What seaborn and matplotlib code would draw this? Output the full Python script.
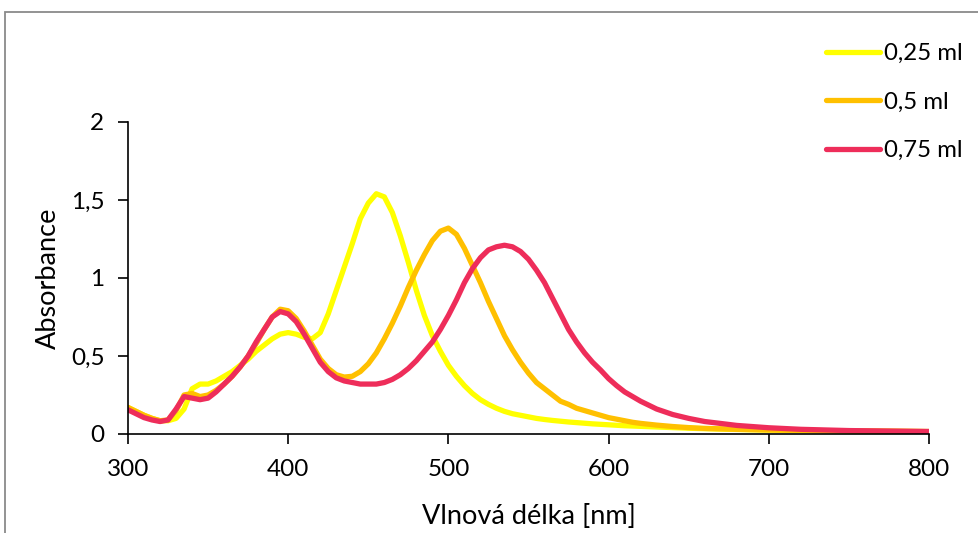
import matplotlib
matplotlib.use("Agg")
import matplotlib.pyplot as plt
import seaborn as sns
import pandas as pd
from matplotlib.patches import Rectangle

wavelength = [300, 305, 310, 315, 320, 325, 330, 335, 340, 345, 350, 355, 360, 365, 370, 375,
              380, 385, 390, 395, 400, 405, 410, 415, 420, 425, 430, 435, 440, 445, 450, 455,
              460, 465, 470, 475, 480, 485, 490, 495, 500, 505, 510, 515, 520, 525, 530, 535,
              540, 545, 550, 555, 560, 565, 570, 575, 580, 585, 590, 595, 600, 605, 610, 615,
              620, 630, 640, 650, 660, 680, 700, 720, 750, 800]

abs_025 = [0.17, 0.145, 0.12, 0.10, 0.085, 0.085, 0.10, 0.16, 0.29, 0.32, 0.32, 0.34, 0.37, 0.40, 0.44, 0.48,
           0.53, 0.57, 0.61, 0.64, 0.65, 0.64, 0.62, 0.61, 0.65, 0.77, 0.92, 1.07, 1.22, 1.38, 1.48, 1.54,
           1.52, 1.42, 1.27, 1.10, 0.92, 0.76, 0.63, 0.53, 0.44, 0.37, 0.31, 0.26, 0.22, 0.19, 0.165, 0.145,
           0.13, 0.12, 0.11, 0.10, 0.093, 0.087, 0.082, 0.077, 0.073, 0.069, 0.065, 0.062, 0.059, 0.056, 0.053, 0.051,
           0.049, 0.045, 0.041, 0.037, 0.034, 0.029, 0.025, 0.022, 0.019, 0.015]

abs_05 = [0.17, 0.145, 0.12, 0.10, 0.085, 0.09, 0.15, 0.25, 0.26, 0.24, 0.25, 0.28, 0.32, 0.37, 0.43, 0.50,
          0.58, 0.67, 0.75, 0.80, 0.79, 0.74, 0.66, 0.57, 0.48, 0.42, 0.38, 0.365, 0.37, 0.40, 0.45, 0.52,
          0.61, 0.71, 0.82, 0.94, 1.05, 1.15, 1.24, 1.30, 1.32, 1.28, 1.19, 1.08, 0.97, 0.85, 0.74, 0.63,
          0.54, 0.46, 0.39, 0.33, 0.29, 0.25, 0.21, 0.19, 0.165, 0.15, 0.135, 0.12, 0.105, 0.095, 0.085, 0.075,
          0.068, 0.057, 0.048, 0.041, 0.036, 0.030, 0.026, 0.023, 0.020, 0.016]

abs_075 = [0.155, 0.13, 0.105, 0.09, 0.08, 0.09, 0.16, 0.24, 0.23, 0.22, 0.23, 0.27, 0.32, 0.37, 0.43, 0.50,
           0.59, 0.67, 0.75, 0.785, 0.77, 0.72, 0.64, 0.55, 0.46, 0.40, 0.36, 0.34, 0.33, 0.32, 0.32, 0.32,
           0.33, 0.35, 0.38, 0.42, 0.47, 0.53, 0.59, 0.67, 0.76, 0.86, 0.97, 1.06, 1.13, 1.18, 1.20, 1.21,
           1.20, 1.17, 1.12, 1.05, 0.97, 0.87, 0.77, 0.67, 0.59, 0.52, 0.46, 0.41, 0.355, 0.31, 0.27, 0.24,
           0.21, 0.16, 0.125, 0.10, 0.08, 0.055, 0.04, 0.03, 0.022, 0.016]

series_labels = ["0,25 ml", "0,5 ml", "0,75 ml"]
colors = ["#FFFF00", "#FFC000", "#EE2D5A"]
x_ticks = [300, 400, 500, 600, 700, 800]
y_ticks = [0, 0.5, 1, 1.5, 2]
y_tick_labels = ["0", "0,5", "1", "1,5", "2"]

df = pd.concat([
    pd.DataFrame({"wl": wavelength, "A": vals, "s": lab})
    for vals, lab in zip([abs_025, abs_05, abs_075], series_labels)
])

sns.set_theme(style="white")
plt.rcParams["font.family"] = ["Lato", "DejaVu Sans"]

fig = plt.figure(figsize=(9.79, 5.33), dpi=100)
ax = fig.add_axes([128/979, 1-434/533, (929-128)/979, (434-122)/533])

sns.lineplot(data=df, x="wl", y="A", hue="s", palette=colors, hue_order=series_labels,
             linewidth=3.8, legend=False, ax=ax, estimator=None, sort=False)
for ln in ax.get_lines():
    ln.set_solid_capstyle("round")
    ln.set_solid_joinstyle("round")

ax.set_xlim(300, 800)
ax.set_ylim(0, 2)
ax.set_xticks(x_ticks)
ax.set_xticklabels([str(t) for t in x_ticks])
ax.set_yticks(y_ticks)
ax.set_yticklabels(y_tick_labels)
ax.tick_params(axis="both", which="major", direction="out", length=7, width=1.2,
               color="black", labelsize=17.5, pad=10, labelcolor="black")
ax.tick_params(axis="x", bottom=True, pad=11)
ax.tick_params(axis="y", left=True)
for side in ["top", "right"]:
    ax.spines[side].set_visible(False)
for side in ["left", "bottom"]:
    ax.spines[side].set_color("black")
    ax.spines[side].set_linewidth(1.2)
ax.set_xlabel("Vlnová délka [nm]", fontsize=19.5, color="black", labelpad=17)
ax.set_ylabel("Absorbance", fontsize=19.5, color="black", labelpad=7)
ax.patch.set_alpha(0)

handles = ax.get_lines()[:3]
leg = fig.legend(handles, series_labels, loc="upper left",
                 bbox_to_anchor=(826/979, 1-43/533), frameon=False, fontsize=17.3,
                 handlelength=2.25, handletextpad=0.17, labelspacing=1.15,
                 borderaxespad=0, borderpad=0)
for t in leg.get_texts():
    t.set_color("black")
for h in leg.legend_handles:
    h.set_solid_capstyle("round")

fig.patches.append(Rectangle((5/979, -0.5), 2, 0.5 + (1-12/533), transform=fig.transFigure,
                             fill=False, edgecolor="#8a8a8a", linewidth=1.3, zorder=0))

fig.savefig("out.png", dpi=100)
